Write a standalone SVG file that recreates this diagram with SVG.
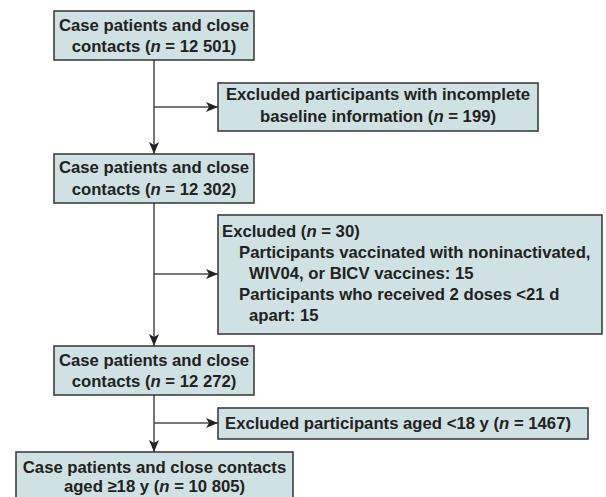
<svg xmlns="http://www.w3.org/2000/svg" width="606" height="497" viewBox="0 0 606 497">
<style>
.box{fill:#cfe1e3;stroke:#333;stroke-width:1.5}
.t{font-family:"Liberation Sans",Arial,sans-serif;font-weight:bold;font-size:16.7px;fill:#222}
.c{text-anchor:middle}
.ln{fill:none;stroke:#4a4a4a;stroke-width:1.5}
</style>
<defs>
<marker id="ah" markerUnits="userSpaceOnUse" markerWidth="12" markerHeight="10" viewBox="0 0 12 10" refX="12" refY="5" orient="auto">
<path d="M0,0 L12,5 L0,10 L3,5 z" fill="#222"/>
</marker>
</defs>
<rect width="606" height="497" fill="#fff"/>
<g id="connectors">
<path class="ln" d="M154,60 V154" marker-end="url(#ah)"/>
<path class="ln" d="M154,107 H218" marker-end="url(#ah)"/>
<path class="ln" d="M154,203 V346" marker-end="url(#ah)"/>
<path class="ln" d="M154,274 H218" marker-end="url(#ah)"/>
<path class="ln" d="M154,395 V452" marker-end="url(#ah)"/>
<path class="ln" d="M154,423 H218" marker-end="url(#ah)"/>
</g>
<g id="n1">
<rect class="box" x="54" y="11" width="200" height="49"/>
<text class="t c" x="154" y="31">Case patients and close</text>
<text class="t c" x="154" y="52">contacts (<tspan font-style="italic">n</tspan> = 12 501)</text>
</g>
<g id="n2">
<rect class="box" x="218" y="83" width="320" height="48"/>
<text class="t c" x="378" y="100">Excluded participants with incomplete</text>
<text class="t c" x="378" y="122">baseline information (<tspan font-style="italic">n</tspan> = 199)</text>
</g>
<g id="n3">
<rect class="box" x="54" y="154" width="200" height="49"/>
<text class="t c" x="154" y="173">Case patients and close</text>
<text class="t c" x="154" y="195">contacts (<tspan font-style="italic">n</tspan> = 12 302)</text>
</g>
<g id="n4">
<rect class="box" x="218" y="215" width="384" height="119"/>
<text class="t" x="222" y="237">Excluded (<tspan font-style="italic">n</tspan> = 30)</text>
<text class="t" x="239" y="258">Participants vaccinated with noninactivated,</text>
<text class="t" x="249" y="279">WIV04, or BICV vaccines: 15</text>
<text class="t" x="239" y="300">Participants who received 2 doses &lt;21 d</text>
<text class="t" x="249" y="321">apart: 15</text>
</g>
<g id="n5">
<rect class="box" x="54" y="346" width="200" height="49"/>
<text class="t c" x="154" y="366">Case patients and close</text>
<text class="t c" x="154" y="387">contacts (<tspan font-style="italic">n</tspan> = 12 272)</text>
</g>
<g id="n6">
<rect class="box" x="218" y="408" width="370" height="31"/>
<text class="t" x="225" y="429">Excluded participants aged &lt;18 y (<tspan font-style="italic">n</tspan> = 1467)</text>
</g>
<g id="n7">
<rect class="box" x="16" y="452" width="277" height="60"/>
<text class="t c" x="154.5" y="473">Case patients and close contacts</text>
<text class="t c" x="154.5" y="492">aged ≥18 y (<tspan font-style="italic">n</tspan> = 10 805)</text>
</g>
</svg>
